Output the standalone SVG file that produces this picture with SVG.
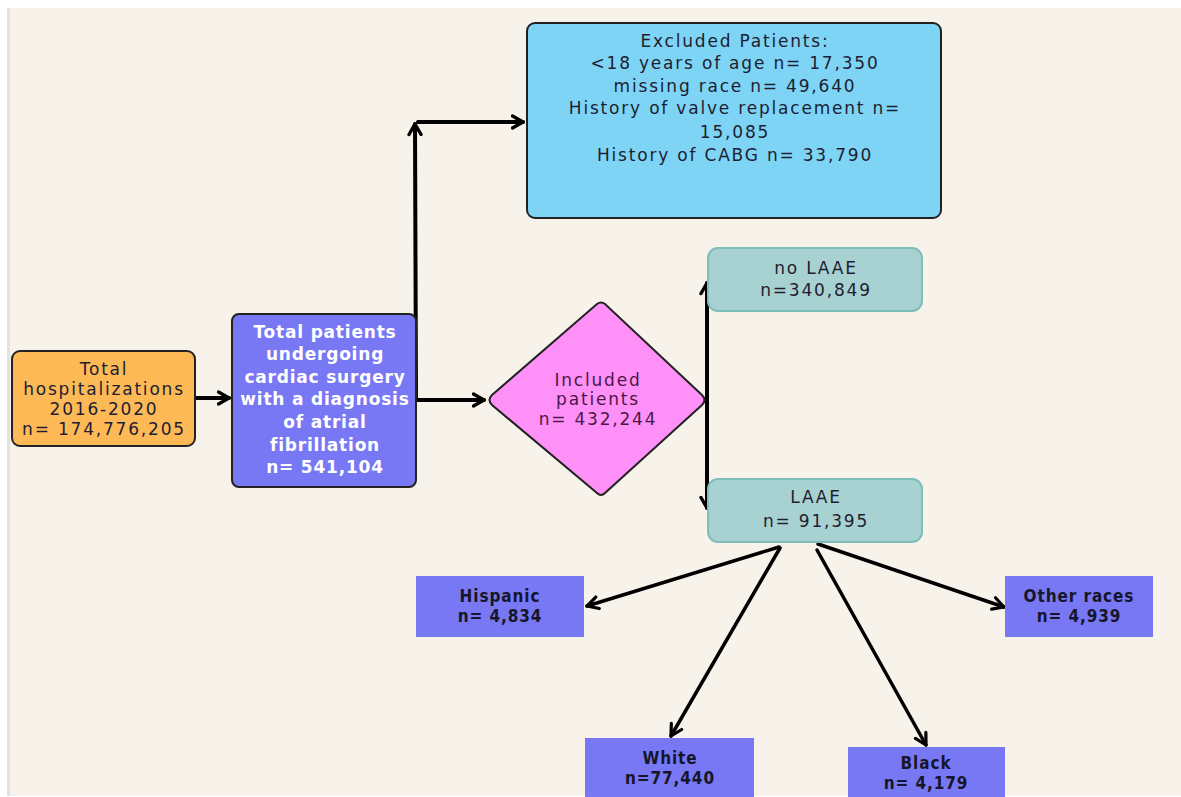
<svg xmlns="http://www.w3.org/2000/svg" width="1181" height="797" viewBox="0 0 1181 797">
<defs>
<style>
.t{font-family:"DejaVu Sans","Noto Sans",sans-serif;font-size:17px;letter-spacing:1.8px;text-anchor:middle;fill:#1e1e32}
.w{fill:#ffffff;font-weight:700;letter-spacing:0.8px}
.d{fill:#4a1848}
.r{font-family:"DejaVu Sans Condensed",Roboto,"Liberation Sans",sans-serif;font-weight:700;font-size:17px;letter-spacing:0.9px;text-anchor:middle;fill:#16162a}
.ln{stroke:#000;stroke-width:4;fill:none;stroke-linecap:round}
.ln2{stroke:#000;stroke-width:3.5;fill:none;stroke-linecap:round}
</style>
<marker id="ah" viewBox="0 0 16 16" refX="12.5" refY="8" markerWidth="16" markerHeight="16" markerUnits="userSpaceOnUse" orient="auto">
<path d="M2,2 L12.5,8 L2,14" fill="none" stroke="#000" stroke-width="3.4" stroke-linecap="round" stroke-linejoin="round"/>
</marker>
<marker id="ah2" viewBox="0 0 16 16" refX="13" refY="8" markerWidth="16" markerHeight="16" markerUnits="userSpaceOnUse" orient="auto">
<path d="M2,2 L13,8 L2,14" fill="none" stroke="#000" stroke-width="3.2" stroke-linecap="round" stroke-linejoin="round"/>
</marker>
</defs>
<rect x="0" y="0" width="1181" height="797" fill="#ffffff"/>
<rect x="7" y="8" width="3" height="788" fill="#e2e2e2"/>
<rect x="10" y="8" width="1171" height="788" fill="#f7f2ea"/>

<g id="connectors">
<line class="ln" x1="196" y1="398" x2="229" y2="398" marker-end="url(#ah)"/>
<line class="ln" x1="417" y1="400" x2="484" y2="400" marker-end="url(#ah)"/>
<line class="ln" x1="416" y1="400" x2="415" y2="124" marker-end="url(#ah)"/>
<line class="ln" x1="418" y1="122" x2="523" y2="122" marker-end="url(#ah)"/>
<line class="ln" x1="707" y1="400" x2="707" y2="283" marker-end="url(#ah)"/>
<line class="ln" x1="707" y1="400" x2="707" y2="508" marker-end="url(#ah)"/>
<line class="ln2" x1="779" y1="547" x2="587" y2="606" marker-end="url(#ah2)"/>
<line class="ln2" x1="780" y1="548" x2="671" y2="736" marker-end="url(#ah2)"/>
<line class="ln2" x1="817" y1="550" x2="926" y2="745" marker-end="url(#ah2)"/>
<line class="ln2" x1="818" y1="544" x2="1004" y2="607" marker-end="url(#ah2)"/>
</g>

<g id="total-hosp">
<rect x="12" y="351" width="183" height="95" rx="8" fill="#fdb955" stroke="#222" stroke-width="2"/>
<text class="t" x="104" y="375">Total</text>
<text class="t" x="104" y="395">hospitalizations</text>
<text class="t" x="104" y="415">2016-2020</text>
<text class="t" x="104" y="435">n= 174,776,205</text>
</g>

<g id="total-patients">
<rect x="232" y="314" width="184" height="173" rx="7" fill="#7878f4" stroke="#222" stroke-width="2"/>
<text class="t w" x="325" y="338">Total patients</text>
<text class="t w" x="325" y="360">undergoing</text>
<text class="t w" x="325" y="383">cardiac surgery</text>
<text class="t w" x="325" y="405">with a diagnosis</text>
<text class="t w" x="325" y="428">of atrial</text>
<text class="t w" x="325" y="451">fibrillation</text>
<text class="t w" x="325" y="473">n= 541,104</text>
</g>

<g id="excluded">
<rect x="527" y="23" width="414" height="195" rx="8" fill="#7dd4f5" stroke="#222" stroke-width="2"/>
<text class="t" x="735" y="47">Excluded Patients:</text>
<text class="t" x="735" y="69">&lt;18 years of age n= 17,350</text>
<text class="t" x="735" y="92">missing race n= 49,640</text>
<text class="t" x="735" y="114">History of valve replacement n=</text>
<text class="t" x="735" y="138">15,085</text>
<text class="t" x="735" y="161">History of CABG n= 33,790</text>
</g>

<g id="included">
<path d="M597,304 Q601,301 605,304 L702,395 Q707,400 702,405 L605,493 Q601,497 597,493 L492,405 Q487,400 492,395 Z" fill="#ff90f8" stroke="#222" stroke-width="2"/>
<text class="t d" x="598" y="386">Included</text>
<text class="t d" x="598" y="405">patients</text>
<text class="t d" x="598" y="425">n= 432,244</text>
</g>

<g id="no-laae">
<rect x="708" y="248" width="214" height="63" rx="10" fill="#a8d1d1" stroke="#7fbcbc" stroke-width="2"/>
<text class="t" x="816" y="274">no LAAE</text>
<text class="t" x="816" y="296">n=340,849</text>
</g>

<g id="laae">
<rect x="708" y="479" width="214" height="63" rx="10" fill="#a8d1d1" stroke="#7fbcbc" stroke-width="2"/>
<text class="t" x="816" y="503">LAAE</text>
<text class="t" x="816" y="527">n= 91,395</text>
</g>

<g id="hispanic">
<rect x="416" y="576" width="168" height="61" fill="#7878f4"/>
<text class="r" x="500" y="602">Hispanic</text>
<text class="r" x="500" y="622">n= 4,834</text>
</g>

<g id="other">
<rect x="1005" y="576" width="148" height="61" fill="#7878f4"/>
<text class="r" x="1079" y="602">Other races</text>
<text class="r" x="1079" y="622">n= 4,939</text>
</g>

<g id="white">
<rect x="585" y="738" width="169" height="59" fill="#7878f4"/>
<text class="r" x="670" y="764">White</text>
<text class="r" x="670" y="784">n=77,440</text>
</g>

<g id="black">
<rect x="848" y="747" width="157" height="50" fill="#7878f4"/>
<text class="r" x="926" y="769">Black</text>
<text class="r" x="926" y="789">n= 4,179</text>
</g>
</svg>
